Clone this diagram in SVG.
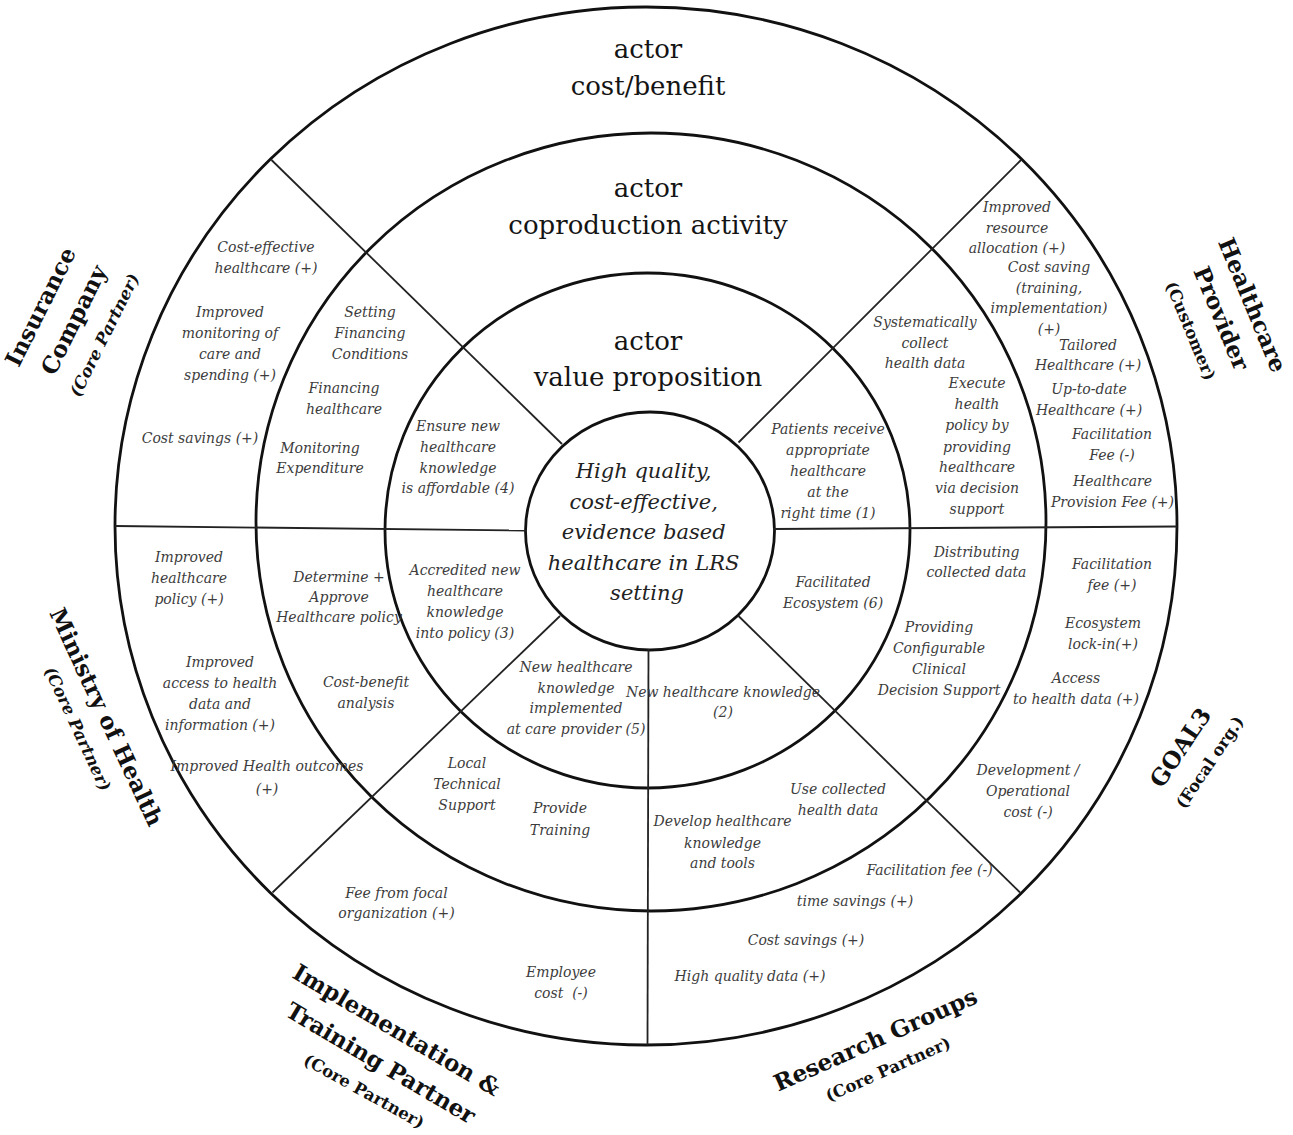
<svg xmlns="http://www.w3.org/2000/svg" width="1293" height="1135" viewBox="0 0 1293 1135">
  <style>
    .ring { fill: none; stroke: #111; stroke-width: 2.8; }
    .div { fill: none; stroke: #222; stroke-width: 1.8; }
    .head { font-family: "DejaVu Serif", "Liberation Serif", serif; font-size: 26px; fill: #141414; text-anchor: middle; }
    .core { font-family: "DejaVu Serif", "Liberation Serif", serif; font-style: italic; font-size: 21px; fill: #222; text-anchor: middle; }
    .lbl { font-family: "DejaVu Serif", "Liberation Serif", serif; font-style: italic; font-size: 14px; fill: #3c3c3c; text-anchor: middle; }
    .actor { font-family: "DejaVu Serif", "Liberation Serif", serif; font-weight: bold; font-size: 23px; fill: #111; text-anchor: middle; }
    .role { font-family: "DejaVu Serif", "Liberation Serif", serif; font-weight: bold; font-size: 16.5px; fill: #111; text-anchor: middle; }
    .it { font-style: italic; }
  </style>
  <rect width="1293" height="1135" fill="#fff"/>

  <!-- concentric rings: cost/benefit, coproduction activity, value proposition, core -->
  <g id="rings">
    <ellipse class="ring" cx="646" cy="526" rx="531" ry="519"/>
    <ellipse class="ring" cx="651" cy="522" rx="395" ry="389"/>
    <ellipse class="ring" cx="647.5" cy="530.5" rx="262.5" ry="257.5"/>
    <ellipse class="ring" cx="650" cy="531" rx="124.5" ry="119"/>
  </g>

  <!-- sector dividers -->
  <g id="connectors">
    <path class="div" d="M271.5 160 L562 444"/>
    <path class="div" d="M1021 160 L738.5 442.5"/>
    <path class="div" d="M115 526 L526 530.5"/>
    <path class="div" d="M773 529 L1177 526.5"/>
    <path class="div" d="M560 616 L272.5 892.5"/>
    <path class="div" d="M648.5 649 L647.5 1045"/>
    <path class="div" d="M738.5 616 L1020 892.5"/>
  </g>

  <!-- ring titles -->
  <g id="ring-titles">
    <text class="head"><tspan x="648" y="58">actor</tspan><tspan x="648" y="95">cost/benefit</tspan></text>
    <text class="head"><tspan x="648" y="197">actor</tspan><tspan x="648" y="234">coproduction activity</tspan></text>
    <text class="head"><tspan x="648" y="350">actor</tspan><tspan x="648" y="386">value proposition</tspan></text>
  </g>

  <!-- shared value proposition -->
  <g id="core-proposition">
    <text class="core">
      <tspan x="647" y="478">High quality,</tspan>
      <tspan x="647" y="508.5">cost-effective,</tspan>
      <tspan x="647" y="539">evidence based</tspan>
      <tspan x="647" y="569.5">healthcare in LRS</tspan>
      <tspan x="647" y="600">setting</tspan>
    </text>
  </g>

  <!-- Insurance Company sector -->
  <g id="insurance-company">
    <g transform="translate(40.5 306.7) rotate(-63.5)"><text class="actor" x="0" y="8">Insurance</text></g>
    <g transform="translate(73.8 320) rotate(-63.5)"><text class="actor" x="0" y="8">Company</text></g>
    <g transform="translate(104.2 335) rotate(-63.5)"><text class="role it" x="0" y="6">(Core Partner)</text></g>
    <text class="lbl"><tspan x="266" y="252">Cost-effective</tspan><tspan x="266" y="273">healthcare (+)</tspan></text>
    <text class="lbl"><tspan x="230" y="317">Improved</tspan><tspan x="230" y="338">monitoring of</tspan><tspan x="230" y="359">care and</tspan><tspan x="230" y="380">spending (+)</tspan></text>
    <text class="lbl"><tspan x="200" y="443">Cost savings (+)</tspan></text>
    <text class="lbl"><tspan x="370" y="317">Setting</tspan><tspan x="370" y="338">Financing</tspan><tspan x="370" y="359">Conditions</tspan></text>
    <text class="lbl"><tspan x="344" y="393">Financing</tspan><tspan x="344" y="414">healthcare</tspan></text>
    <text class="lbl"><tspan x="320" y="453">Monitoring</tspan><tspan x="320" y="473">Expenditure</tspan></text>
    <text class="lbl"><tspan x="458" y="431">Ensure new</tspan><tspan x="458" y="452">healthcare</tspan><tspan x="458" y="472.5">knowledge</tspan><tspan x="458" y="493">is affordable (4)</tspan></text>
  </g>

  <!-- Healthcare Provider sector -->
  <g id="healthcare-provider">
    <g transform="translate(1252.5 305) rotate(67.5)"><text class="actor" x="0" y="8">Healthcare</text></g>
    <g transform="translate(1221.5 318.3) rotate(67.5)"><text class="actor" x="0" y="8">Provider</text></g>
    <g transform="translate(1191 330.8) rotate(67.5)"><text class="role" x="0" y="6">(Customer)</text></g>
    <text class="lbl"><tspan x="1017" y="212">Improved</tspan><tspan x="1017" y="233">resource</tspan><tspan x="1017" y="253">allocation (+)</tspan></text>
    <text class="lbl"><tspan x="1049" y="272">Cost saving</tspan><tspan x="1049" y="292.5">(training,</tspan><tspan x="1049" y="312.5">implementation)</tspan><tspan x="1049" y="334">(+)</tspan></text>
    <text class="lbl"><tspan x="1088" y="349.5">Tailored</tspan><tspan x="1088" y="370">Healthcare (+)</tspan></text>
    <text class="lbl"><tspan x="1089" y="393.5">Up-to-date</tspan><tspan x="1089" y="415">Healthcare (+)</tspan></text>
    <text class="lbl"><tspan x="1112" y="439">Facilitation</tspan><tspan x="1112" y="460">Fee (-)</tspan></text>
    <text class="lbl"><tspan x="1112.5" y="485.5">Healthcare</tspan><tspan x="1112.5" y="507">Provision Fee (+)</tspan></text>
    <text class="lbl"><tspan x="925" y="327">Systematically</tspan><tspan x="925" y="348">collect</tspan><tspan x="925" y="368">health data</tspan></text>
    <text class="lbl"><tspan x="977" y="388">Execute</tspan><tspan x="977" y="409">health</tspan><tspan x="977" y="430">policy by</tspan><tspan x="977" y="451.5">providing</tspan><tspan x="977" y="472">healthcare</tspan><tspan x="977" y="493">via decision</tspan><tspan x="977" y="514">support</tspan></text>
    <text class="lbl"><tspan x="828" y="434">Patients receive</tspan><tspan x="828" y="455">appropriate</tspan><tspan x="828" y="476">healthcare</tspan><tspan x="828" y="497">at the</tspan><tspan x="828" y="518">right time (1)</tspan></text>
  </g>

  <!-- Ministry of Health sector -->
  <g id="ministry-of-health">
    <g transform="translate(106.3 717) rotate(65)"><text class="actor" x="0" y="8">Ministry of Health</text></g>
    <g transform="translate(77.9 728.7) rotate(65)"><text class="role it" x="0" y="6">(Core Partner)</text></g>
    <text class="lbl"><tspan x="189" y="562">Improved</tspan><tspan x="189" y="583">healthcare</tspan><tspan x="189" y="603.5">policy (+)</tspan></text>
    <text class="lbl"><tspan x="220" y="667">Improved</tspan><tspan x="220" y="688">access to health</tspan><tspan x="220" y="708.5">data and</tspan><tspan x="220" y="730">information (+)</tspan></text>
    <text class="lbl"><tspan x="267" y="771">Improved Health outcomes</tspan><tspan x="267" y="793.5">(+)</tspan></text>
    <text class="lbl"><tspan x="339" y="582">Determine +</tspan><tspan x="339" y="602">Approve</tspan><tspan x="339" y="622">Healthcare policy</tspan></text>
    <text class="lbl"><tspan x="366" y="686.5">Cost-benefit</tspan><tspan x="366" y="707.5">analysis</tspan></text>
    <text class="lbl"><tspan x="465" y="575">Accredited new</tspan><tspan x="465" y="596">healthcare</tspan><tspan x="465" y="616.5">knowledge</tspan><tspan x="465" y="637.5">into policy (3)</tspan></text>
  </g>

  <!-- Implementation & Training Partner sector -->
  <g id="implementation-training-partner">
    <g transform="translate(396.7 1030) rotate(30.5)"><text class="actor" x="0" y="8">Implementation &amp;</text></g>
    <g transform="translate(380.8 1063) rotate(30.5)"><text class="actor" x="0" y="8">Training Partner</text></g>
    <g transform="translate(364.2 1091) rotate(29)"><text class="role" x="0" y="6">(Core Partner)</text></g>
    <text class="lbl"><tspan x="576" y="672">New healthcare</tspan><tspan x="576" y="693">knowledge</tspan><tspan x="576" y="713">implemented</tspan><tspan x="576" y="734">at care provider (5)</tspan></text>
    <text class="lbl"><tspan x="467" y="768">Local</tspan><tspan x="467" y="789">Technical</tspan><tspan x="467" y="810">Support</tspan></text>
    <text class="lbl"><tspan x="560" y="813">Provide</tspan><tspan x="560" y="835">Training</tspan></text>
    <text class="lbl"><tspan x="396.5" y="897.5">Fee from focal</tspan><tspan x="396.5" y="918">organization (+)</tspan></text>
    <text class="lbl" xml:space="preserve"><tspan x="561" y="977">Employee</tspan><tspan x="561" y="997.5">cost  (-)</tspan></text>
  </g>

  <!-- Research Groups sector -->
  <g id="research-groups">
    <g transform="translate(875.4 1039.6) rotate(-24)"><text class="actor" x="0" y="8">Research Groups</text></g>
    <g transform="translate(887.8 1069) rotate(-24)"><text class="role" x="0" y="6">(Core Partner)</text></g>
    <text class="lbl"><tspan x="723" y="696.5">New healthcare knowledge</tspan><tspan x="723" y="717">(2)</tspan></text>
    <text class="lbl"><tspan x="838" y="794">Use collected</tspan><tspan x="838" y="814.5">health data</tspan></text>
    <text class="lbl"><tspan x="722.5" y="826">Develop healthcare</tspan><tspan x="722.5" y="847.5">knowledge</tspan><tspan x="722.5" y="868">and tools</tspan></text>
    <text class="lbl"><tspan x="929.5" y="875">Facilitation fee (-)</tspan></text>
    <text class="lbl"><tspan x="855" y="905.5">time savings (+)</tspan></text>
    <text class="lbl"><tspan x="806" y="944.5">Cost savings (+)</tspan></text>
    <text class="lbl"><tspan x="750" y="980.5">High quality data (+)</tspan></text>
  </g>

  <!-- GOAL3 (focal organisation) sector -->
  <g id="goal3">
    <g transform="translate(1180.4 747.5) rotate(-56)"><text class="actor" x="0" y="8">GOAL3</text></g>
    <g transform="translate(1209.5 762) rotate(-56)"><text class="role" x="0" y="6">(Focal org.)</text></g>
    <text class="lbl"><tspan x="976.5" y="556.5">Distributing</tspan><tspan x="976.5" y="577">collected data</tspan></text>
    <text class="lbl"><tspan x="833" y="587">Facilitated</tspan><tspan x="833" y="607.5">Ecosystem (6)</tspan></text>
    <text class="lbl"><tspan x="939" y="632">Providing</tspan><tspan x="939" y="653">Configurable</tspan><tspan x="939" y="674">Clinical</tspan><tspan x="939" y="695">Decision Support</tspan></text>
    <text class="lbl"><tspan x="1112" y="569">Facilitation</tspan><tspan x="1112" y="590">fee (+)</tspan></text>
    <text class="lbl"><tspan x="1103" y="628">Ecosystem</tspan><tspan x="1103" y="649">lock-in(+)</tspan></text>
    <text class="lbl"><tspan x="1076" y="683">Access</tspan><tspan x="1076" y="704">to health data (+)</tspan></text>
    <text class="lbl"><tspan x="1028" y="775">Development /</tspan><tspan x="1028" y="796">Operational</tspan><tspan x="1028" y="816.5">cost (-)</tspan></text>
  </g>
</svg>
